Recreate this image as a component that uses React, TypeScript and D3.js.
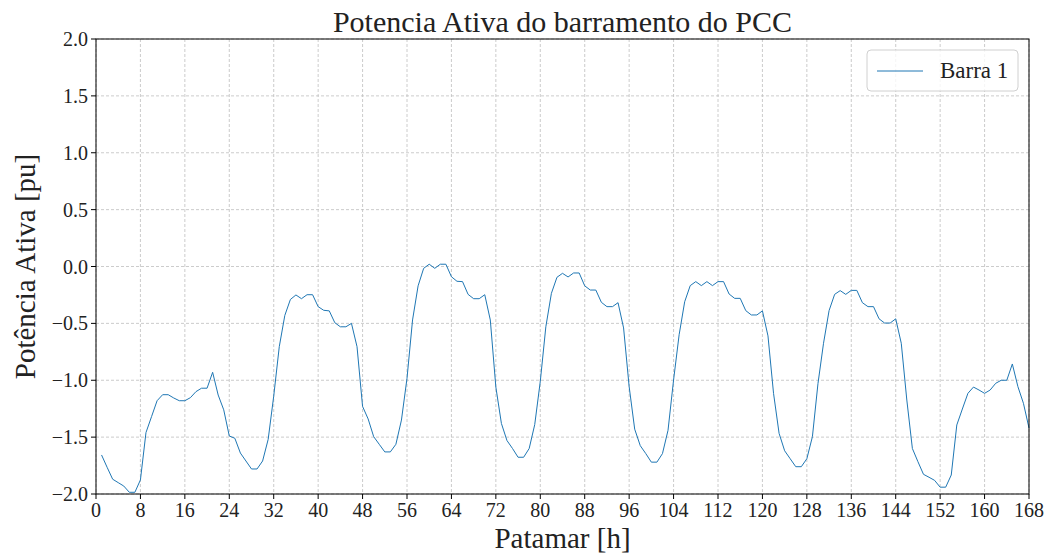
import React from "react";
import * as d3 from "d3";

const hours: number[] = d3.range(1, 169);
const barra1: number[] = [
  -1.657, -1.765, -1.87, -1.9, -1.93, -1.985, -1.985, -1.876, -1.46, -1.32,
  -1.18, -1.127, -1.127, -1.156, -1.18, -1.18, -1.153, -1.1, -1.07, -1.07,
  -0.93, -1.13, -1.26, -1.49, -1.51, -1.64, -1.71, -1.78, -1.78, -1.71,
  -1.52, -1.14, -0.705, -0.43, -0.29, -0.25, -0.283, -0.248, -0.248, -0.353,
  -0.385, -0.39, -0.494, -0.53, -0.53, -0.5, -0.705, -1.23, -1.34, -1.496,
  -1.563, -1.63, -1.63, -1.563, -1.35, -0.983, -0.47, -0.17, -0.016, 0.02,
  -0.016, 0.02, 0.02, -0.09, -0.13, -0.133, -0.245, -0.283, -0.283, -0.248,
  -0.47, -1.06, -1.38, -1.53, -1.6, -1.677, -1.677, -1.6, -1.39, -1.01,
  -0.53, -0.236, -0.095, -0.06, -0.092, -0.057, -0.057, -0.17, -0.207, -0.207,
  -0.315, -0.353, -0.353, -0.318, -0.54, -1.056, -1.43, -1.575, -1.645, -1.72,
  -1.72, -1.645, -1.44, -0.998, -0.6, -0.31, -0.168, -0.133, -0.168, -0.133,
  -0.168, -0.133, -0.133, -0.242, -0.28, -0.28, -0.388, -0.426, -0.426, -0.39,
  -0.61, -1.115, -1.467, -1.62, -1.69, -1.76, -1.76, -1.69, -1.496, -1.03,
  -0.675, -0.388, -0.245, -0.212, -0.245, -0.21, -0.21, -0.318, -0.353, -0.353,
  -0.46, -0.497, -0.497, -0.46, -0.675, -1.174, -1.6, -1.716, -1.827, -1.853,
  -1.88, -1.94, -1.94, -1.833, -1.393, -1.253, -1.115, -1.06, -1.086, -1.115,
  -1.086, -1.027, -1.0, -1.0, -0.857, -1.056, -1.203, -1.42,
];
const xTicks: number[] = d3.range(0, 169, 8);
const yTicks: number[] = [-2.0, -1.5, -1.0, -0.5, 0.0, 0.5, 1.0, 1.5, 2.0];
const title = "Potencia Ativa do barramento do PCC";
const xLabel = "Patamar [h]";
const yLabel = "Potência Ativa [pu]";
const seriesName = "Barra 1";

const W = 1047;
const H = 556;
const L = 96, R = 1029, T = 39, B = 494;
const FONT = "'Liberation Serif', 'DejaVu Serif', serif";
const LINE = "#1f77b4";

export default function App() {
  const x = d3.scaleLinear().domain([0, 168]).range([L, R]);
  const y = d3.scaleLinear().domain([-2, 2]).range([B, T]);
  const line = d3
    .line<number>()
    .x((_, i) => x(hours[i]))
    .y((d) => y(d));
  const path = line(barra1) || "";

  return (
    <svg
      width={W}
      height={H}
      style={{ position: "absolute", left: 0, top: 0, background: "#fff" }}
      fontFamily={FONT}
    >
      <rect x={0} y={0} width={W} height={H} fill="#fff" />
      {/* grid */}
      <g stroke="#b0b0b0" strokeWidth={0.8} strokeDasharray="3,2" opacity={0.8}>
        {xTicks.map((t) => (
          <line key={"gx" + t} x1={x(t)} x2={x(t)} y1={T} y2={B} />
        ))}
        {yTicks.map((t) => (
          <line key={"gy" + t} x1={L} x2={R} y1={y(t)} y2={y(t)} />
        ))}
      </g>
      {/* data line */}
      <path d={path} fill="none" stroke={LINE} strokeWidth={1} strokeLinejoin="round" />
      {/* spines */}
      <rect x={L} y={T} width={R - L} height={B - T} fill="none" stroke="#000" strokeWidth={1} />
      {/* x ticks */}
      {xTicks.map((t) => (
        <g key={"xt" + t}>
          <line x1={x(t)} x2={x(t)} y1={B} y2={B + 5} stroke="#000" strokeWidth={1} />
          <text x={x(t)} y={B + 23} textAnchor="middle" fontSize={20} fill="#222">
            {t}
          </text>
        </g>
      ))}
      {/* y ticks */}
      {yTicks.map((t) => (
        <g key={"yt" + t}>
          <line x1={L - 5} x2={L} y1={y(t)} y2={y(t)} stroke="#000" strokeWidth={1} />
          <text x={L - 8} y={y(t) + 7} textAnchor="end" fontSize={20} fill="#222">
            {t < 0 ? "\u2212" + Math.abs(t).toFixed(1) : t.toFixed(1)}
          </text>
        </g>
      ))}
      {/* title and labels */}
      <text x={(L + R) / 2} y={32} textAnchor="middle" fontSize={30} fill="#222">
        {title}
      </text>
      <text x={(L + R) / 2} y={548} textAnchor="middle" fontSize={29} fill="#222">
        {xLabel}
      </text>
      <text
        transform={`translate(${35},${(T + B) / 2}) rotate(-90)`}
        textAnchor="middle"
        fontSize={29}
        fill="#222"
      >
        {yLabel}
      </text>
      {/* legend */}
      <g>
        <rect x={867} y={50} width={151} height={41} rx={4} fill="#fff" fillOpacity={0.8} stroke="#d0d0d0" strokeWidth={1} />
        <line x1={877} x2={923} y1={71} y2={71} stroke={LINE} strokeWidth={1} />
        <text x={940} y={78} fontSize={23} fill="#222">
          {seriesName}
        </text>
      </g>
    </svg>
  );
}
